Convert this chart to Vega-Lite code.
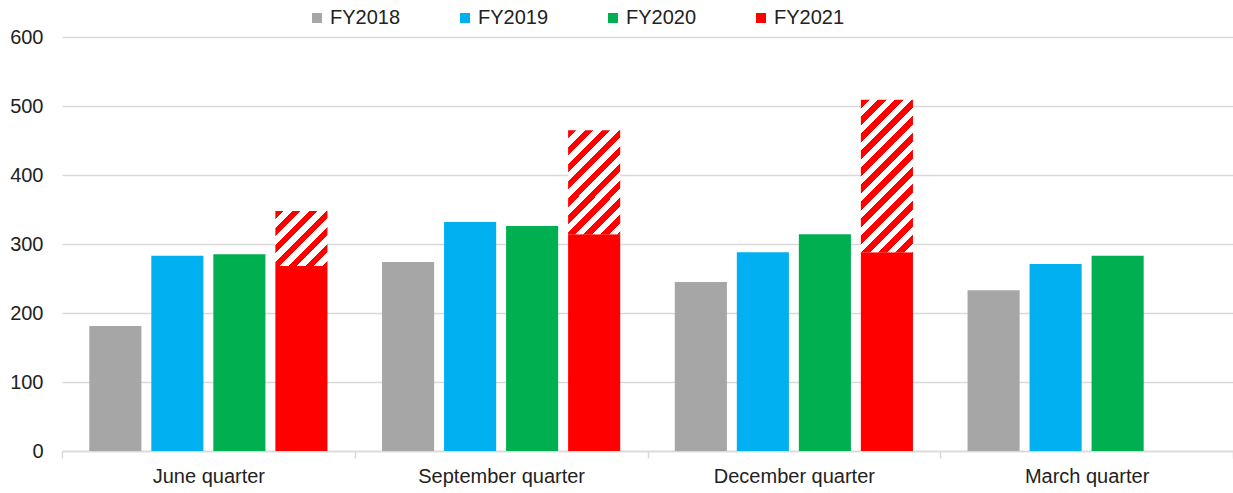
{
  "$schema": "https://vega.github.io/schema/vega-lite/v6.json",
  "width": 1171,
  "height": 414,
  "autosize": {"type": "none"},
  "padding": {"left": 62, "top": 37, "right": 0, "bottom": 42},
  "config": {"view": {"stroke": null}, "font": "Liberation Sans"},
  "data": {
    "values": [
      {"quarter": "June quarter", "fy": "FY2018", "value": 181, "estimate": null},
      {"quarter": "June quarter", "fy": "FY2019", "value": 283, "estimate": null},
      {"quarter": "June quarter", "fy": "FY2020", "value": 285, "estimate": null},
      {"quarter": "June quarter", "fy": "FY2021", "value": 268, "estimate": 348},
      {"quarter": "September quarter", "fy": "FY2018", "value": 274, "estimate": null},
      {"quarter": "September quarter", "fy": "FY2019", "value": 332, "estimate": null},
      {"quarter": "September quarter", "fy": "FY2020", "value": 326, "estimate": null},
      {"quarter": "September quarter", "fy": "FY2021", "value": 314, "estimate": 465},
      {"quarter": "December quarter", "fy": "FY2018", "value": 245, "estimate": null},
      {"quarter": "December quarter", "fy": "FY2019", "value": 288, "estimate": null},
      {"quarter": "December quarter", "fy": "FY2020", "value": 314, "estimate": null},
      {"quarter": "December quarter", "fy": "FY2021", "value": 288, "estimate": 509},
      {"quarter": "March quarter", "fy": "FY2018", "value": 233, "estimate": null},
      {"quarter": "March quarter", "fy": "FY2019", "value": 271, "estimate": null},
      {"quarter": "March quarter", "fy": "FY2020", "value": 283, "estimate": null}
    ]
  },
  "encoding": {
    "x": {
      "field": "quarter",
      "type": "nominal",
      "sort": ["June quarter", "September quarter", "December quarter", "March quarter"],
      "scale": {"paddingInner": 0, "paddingOuter": 0},
      "axis": {
        "title": null,
        "labelAngle": 0,
        "labelFontSize": 20,
        "labelColor": "#222222",
        "domainColor": "#d9d9d9",
        "domainWidth": 1.5,
        "tickColor": "#d9d9d9",
        "tickWidth": 1.5,
        "tickSize": 7,
        "tickBand": "extent",
        "labelPadding": 8,
        "grid": false
      }
    },
    "xOffset": {
      "field": "fy",
      "type": "nominal",
      "scale": {"domain": ["FY2018", "FY2019", "FY2020", "FY2021"], "paddingInner": 0.16, "paddingOuter": 0.44}
    }
  },
  "layer": [
    {
      "mark": {"type": "bar"},
      "encoding": {
        "y": {
          "field": "value",
          "type": "quantitative",
          "scale": {"domain": [0, 600]},
          "axis": {
            "title": null,
            "values": [0, 100, 200, 300, 400, 500, 600],
            "domain": false,
            "ticks": false,
            "gridColor": "#d9d9d9",
            "gridWidth": 1.5,
            "labelPadding": 19,
            "labelFontSize": 20,
            "labelColor": "#222222"
          }
        },
        "color": {
          "field": "fy",
          "type": "nominal",
          "scale": {"domain": ["FY2018", "FY2019", "FY2020", "FY2021"], "range": ["#a6a6a6", "#00b0f0", "#00b050", "#ff0000"]},
          "legend": {
            "orient": "none",
            "legendX": 245,
            "legendY": -29,
            "direction": "horizontal",
            "title": null,
            "symbolType": "square",
            "symbolSize": 100,
            "symbolStrokeWidth": 0,
            "labelFontSize": 20,
            "labelColor": "#222222",
            "labelOffset": 3,
            "columnPadding": 54,
            "padding": 0
          }
        }
      }
    },
    {
      "transform": [{"filter": "datum.quarter === 'June quarter' && datum.estimate != null"}],
      "mark": {
        "type": "bar",
        "fill": {
          "gradient": "linear", "x1": 0, "y1": 0, "x2": 1.922, "y2": 2.037,
          "stops": [
            {"offset": 0, "color": "#ff0000"}, {"offset": 0.04, "color": "#ff0000"}, {"offset": 0.04, "color": "#ffffff"}, {"offset": 0.08, "color": "#ffffff"},
            {"offset": 0.08, "color": "#ff0000"}, {"offset": 0.12, "color": "#ff0000"}, {"offset": 0.12, "color": "#ffffff"}, {"offset": 0.16, "color": "#ffffff"},
            {"offset": 0.16, "color": "#ff0000"}, {"offset": 0.2, "color": "#ff0000"}, {"offset": 0.2, "color": "#ffffff"}, {"offset": 0.24, "color": "#ffffff"},
            {"offset": 0.24, "color": "#ff0000"}, {"offset": 0.28, "color": "#ff0000"}, {"offset": 0.28, "color": "#ffffff"}, {"offset": 0.32, "color": "#ffffff"},
            {"offset": 0.32, "color": "#ff0000"}, {"offset": 0.36, "color": "#ff0000"}, {"offset": 0.36, "color": "#ffffff"}, {"offset": 0.4, "color": "#ffffff"},
            {"offset": 0.4, "color": "#ff0000"}, {"offset": 0.44, "color": "#ff0000"}, {"offset": 0.44, "color": "#ffffff"}, {"offset": 0.48, "color": "#ffffff"},
            {"offset": 0.48, "color": "#ff0000"}, {"offset": 0.52, "color": "#ff0000"}, {"offset": 0.52, "color": "#ffffff"}, {"offset": 0.56, "color": "#ffffff"},
            {"offset": 0.56, "color": "#ff0000"}, {"offset": 0.6, "color": "#ff0000"}, {"offset": 0.6, "color": "#ffffff"}, {"offset": 0.64, "color": "#ffffff"},
            {"offset": 0.64, "color": "#ff0000"}, {"offset": 0.68, "color": "#ff0000"}, {"offset": 0.68, "color": "#ffffff"}, {"offset": 0.72, "color": "#ffffff"},
            {"offset": 0.72, "color": "#ff0000"}, {"offset": 0.76, "color": "#ff0000"}, {"offset": 0.76, "color": "#ffffff"}, {"offset": 0.8, "color": "#ffffff"},
            {"offset": 0.8, "color": "#ff0000"}, {"offset": 0.84, "color": "#ff0000"}, {"offset": 0.84, "color": "#ffffff"}, {"offset": 0.88, "color": "#ffffff"},
            {"offset": 0.88, "color": "#ff0000"}, {"offset": 0.92, "color": "#ff0000"}, {"offset": 0.92, "color": "#ffffff"}, {"offset": 0.96, "color": "#ffffff"},
            {"offset": 0.96, "color": "#ff0000"}, {"offset": 1, "color": "#ff0000"}
          ]
        }
      },
      "encoding": {
        "y": {"field": "estimate", "type": "quantitative"},
        "y2": {"field": "value"}
      }
    },
    {
      "transform": [{"filter": "datum.quarter === 'September quarter' && datum.estimate != null"}],
      "mark": {
        "type": "bar",
        "fill": {
          "gradient": "linear", "x1": 0, "y1": 0, "x2": 0.8208, "y2": 1.635,
          "stops": [
            {"offset": 0, "color": "#ff0000"}, {"offset": 0.04, "color": "#ff0000"}, {"offset": 0.04, "color": "#ffffff"}, {"offset": 0.08, "color": "#ffffff"},
            {"offset": 0.08, "color": "#ff0000"}, {"offset": 0.12, "color": "#ff0000"}, {"offset": 0.12, "color": "#ffffff"}, {"offset": 0.16, "color": "#ffffff"},
            {"offset": 0.16, "color": "#ff0000"}, {"offset": 0.2, "color": "#ff0000"}, {"offset": 0.2, "color": "#ffffff"}, {"offset": 0.24, "color": "#ffffff"},
            {"offset": 0.24, "color": "#ff0000"}, {"offset": 0.28, "color": "#ff0000"}, {"offset": 0.28, "color": "#ffffff"}, {"offset": 0.32, "color": "#ffffff"},
            {"offset": 0.32, "color": "#ff0000"}, {"offset": 0.36, "color": "#ff0000"}, {"offset": 0.36, "color": "#ffffff"}, {"offset": 0.4, "color": "#ffffff"},
            {"offset": 0.4, "color": "#ff0000"}, {"offset": 0.44, "color": "#ff0000"}, {"offset": 0.44, "color": "#ffffff"}, {"offset": 0.48, "color": "#ffffff"},
            {"offset": 0.48, "color": "#ff0000"}, {"offset": 0.52, "color": "#ff0000"}, {"offset": 0.52, "color": "#ffffff"}, {"offset": 0.56, "color": "#ffffff"},
            {"offset": 0.56, "color": "#ff0000"}, {"offset": 0.6, "color": "#ff0000"}, {"offset": 0.6, "color": "#ffffff"}, {"offset": 0.64, "color": "#ffffff"},
            {"offset": 0.64, "color": "#ff0000"}, {"offset": 0.68, "color": "#ff0000"}, {"offset": 0.68, "color": "#ffffff"}, {"offset": 0.72, "color": "#ffffff"},
            {"offset": 0.72, "color": "#ff0000"}, {"offset": 0.76, "color": "#ff0000"}, {"offset": 0.76, "color": "#ffffff"}, {"offset": 0.8, "color": "#ffffff"},
            {"offset": 0.8, "color": "#ff0000"}, {"offset": 0.84, "color": "#ff0000"}, {"offset": 0.84, "color": "#ffffff"}, {"offset": 0.88, "color": "#ffffff"},
            {"offset": 0.88, "color": "#ff0000"}, {"offset": 0.92, "color": "#ff0000"}, {"offset": 0.92, "color": "#ffffff"}, {"offset": 0.96, "color": "#ffffff"},
            {"offset": 0.96, "color": "#ff0000"}, {"offset": 1, "color": "#ff0000"}
          ]
        }
      },
      "encoding": {
        "y": {"field": "estimate", "type": "quantitative"},
        "y2": {"field": "value"}
      }
    },
    {
      "transform": [{"filter": "datum.quarter === 'December quarter' && datum.estimate != null"}],
      "mark": {
        "type": "bar",
        "fill": {
          "gradient": "linear", "x1": 0, "y1": 0, "x2": 0.4263, "y2": 1.248,
          "stops": [
            {"offset": 0, "color": "#ff0000"}, {"offset": 0.04, "color": "#ff0000"}, {"offset": 0.04, "color": "#ffffff"}, {"offset": 0.08, "color": "#ffffff"},
            {"offset": 0.08, "color": "#ff0000"}, {"offset": 0.12, "color": "#ff0000"}, {"offset": 0.12, "color": "#ffffff"}, {"offset": 0.16, "color": "#ffffff"},
            {"offset": 0.16, "color": "#ff0000"}, {"offset": 0.2, "color": "#ff0000"}, {"offset": 0.2, "color": "#ffffff"}, {"offset": 0.24, "color": "#ffffff"},
            {"offset": 0.24, "color": "#ff0000"}, {"offset": 0.28, "color": "#ff0000"}, {"offset": 0.28, "color": "#ffffff"}, {"offset": 0.32, "color": "#ffffff"},
            {"offset": 0.32, "color": "#ff0000"}, {"offset": 0.36, "color": "#ff0000"}, {"offset": 0.36, "color": "#ffffff"}, {"offset": 0.4, "color": "#ffffff"},
            {"offset": 0.4, "color": "#ff0000"}, {"offset": 0.44, "color": "#ff0000"}, {"offset": 0.44, "color": "#ffffff"}, {"offset": 0.48, "color": "#ffffff"},
            {"offset": 0.48, "color": "#ff0000"}, {"offset": 0.52, "color": "#ff0000"}, {"offset": 0.52, "color": "#ffffff"}, {"offset": 0.56, "color": "#ffffff"},
            {"offset": 0.56, "color": "#ff0000"}, {"offset": 0.6, "color": "#ff0000"}, {"offset": 0.6, "color": "#ffffff"}, {"offset": 0.64, "color": "#ffffff"},
            {"offset": 0.64, "color": "#ff0000"}, {"offset": 0.68, "color": "#ff0000"}, {"offset": 0.68, "color": "#ffffff"}, {"offset": 0.72, "color": "#ffffff"},
            {"offset": 0.72, "color": "#ff0000"}, {"offset": 0.76, "color": "#ff0000"}, {"offset": 0.76, "color": "#ffffff"}, {"offset": 0.8, "color": "#ffffff"},
            {"offset": 0.8, "color": "#ff0000"}, {"offset": 0.84, "color": "#ff0000"}, {"offset": 0.84, "color": "#ffffff"}, {"offset": 0.88, "color": "#ffffff"},
            {"offset": 0.88, "color": "#ff0000"}, {"offset": 0.92, "color": "#ff0000"}, {"offset": 0.92, "color": "#ffffff"}, {"offset": 0.96, "color": "#ffffff"},
            {"offset": 0.96, "color": "#ff0000"}, {"offset": 1, "color": "#ff0000"}
          ]
        }
      },
      "encoding": {
        "y": {"field": "estimate", "type": "quantitative"},
        "y2": {"field": "value"}
      }
    }
  ]
}
